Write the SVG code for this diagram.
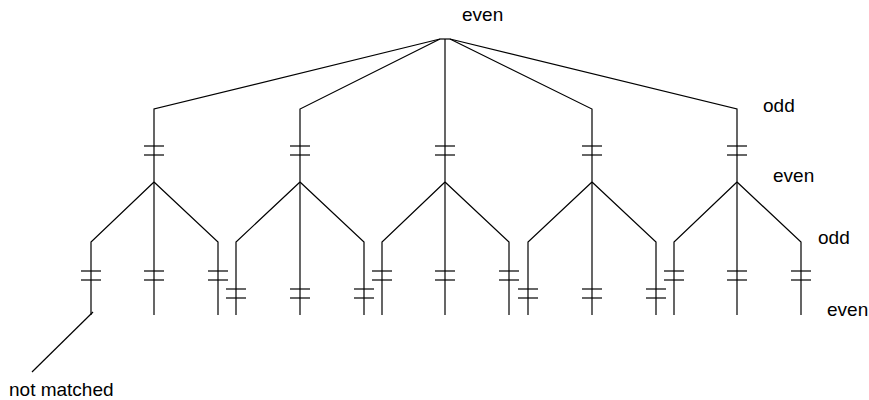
<svg xmlns="http://www.w3.org/2000/svg" width="869" height="400" viewBox="0 0 869 400">
<style>
line,polyline{stroke:#000;stroke-width:1.2;fill:none}
text{font-family:"Liberation Sans",Arial,sans-serif;font-size:19px;fill:#000}
</style>
<defs>
<g id="tick"><line x1="-10" y1="0" x2="10" y2="0"/><line x1="-10" y1="9" x2="10" y2="9"/></g>
</defs>
<rect width="869" height="400" fill="#fff"/>
<g id="connectors">
<line x1="440" y1="39" x2="450" y2="39"/>
<polyline points="440,39 154,109 154,182"/>
<polyline points="440,39 300,109 300,182"/>
<line x1="445" y1="39" x2="445" y2="182"/>
<polyline points="450,39 592,109 592,182"/>
<polyline points="450,39 737,109 737,182"/>
<polyline points="154,182 91,242 91,315"/><line x1="154" y1="182" x2="154" y2="315"/><polyline points="154,182 218,242 218,315"/>
<polyline points="300,182 236,242 236,315"/><line x1="300" y1="182" x2="300" y2="315"/><polyline points="300,182 364,242 364,315"/>
<polyline points="445,182 382,242 382,315"/><line x1="445" y1="182" x2="445" y2="315"/><polyline points="445,182 509,242 509,315"/>
<polyline points="592,182 528,242 528,315"/><line x1="592" y1="182" x2="592" y2="315"/><polyline points="592,182 656,242 656,315"/>
<polyline points="737,182 674,242 674,315"/><line x1="737" y1="182" x2="737" y2="315"/><polyline points="737,182 801,242 801,315"/>
<line x1="93" y1="312" x2="32" y2="372"/>
</g>
<g id="level1">
<g id="n1"><use href="#tick" x="154" y="146"/></g>
<g id="n2"><use href="#tick" x="300" y="146"/></g>
<g id="n3"><use href="#tick" x="445" y="146"/></g>
<g id="n4"><use href="#tick" x="592" y="146"/></g>
<g id="n5"><use href="#tick" x="737" y="146"/></g>
</g>
<g id="level2">
<g id="n1a"><use href="#tick" x="91" y="271"/></g><g id="n1b"><use href="#tick" x="154" y="271"/></g><g id="n1c"><use href="#tick" x="218" y="271"/></g>
<g id="n2a"><use href="#tick" x="236" y="289"/></g><g id="n2b"><use href="#tick" x="300" y="289"/></g><g id="n2c"><use href="#tick" x="364" y="289"/></g>
<g id="n3a"><use href="#tick" x="382" y="271"/></g><g id="n3b"><use href="#tick" x="445" y="271"/></g><g id="n3c"><use href="#tick" x="509" y="271"/></g>
<g id="n4a"><use href="#tick" x="528" y="289"/></g><g id="n4b"><use href="#tick" x="592" y="289"/></g><g id="n4c"><use href="#tick" x="656" y="289"/></g>
<g id="n5a"><use href="#tick" x="674" y="271"/></g><g id="n5b"><use href="#tick" x="737" y="271"/></g><g id="n5c"><use href="#tick" x="801" y="271"/></g>
</g>
<g id="labels">
<text x="462" y="21">even</text>
<text x="763" y="112">odd</text>
<text x="773" y="182">even</text>
<text x="818" y="244">odd</text>
<text x="827" y="316">even</text>
<text x="9" y="396">not matched</text>
</g>
</svg>
